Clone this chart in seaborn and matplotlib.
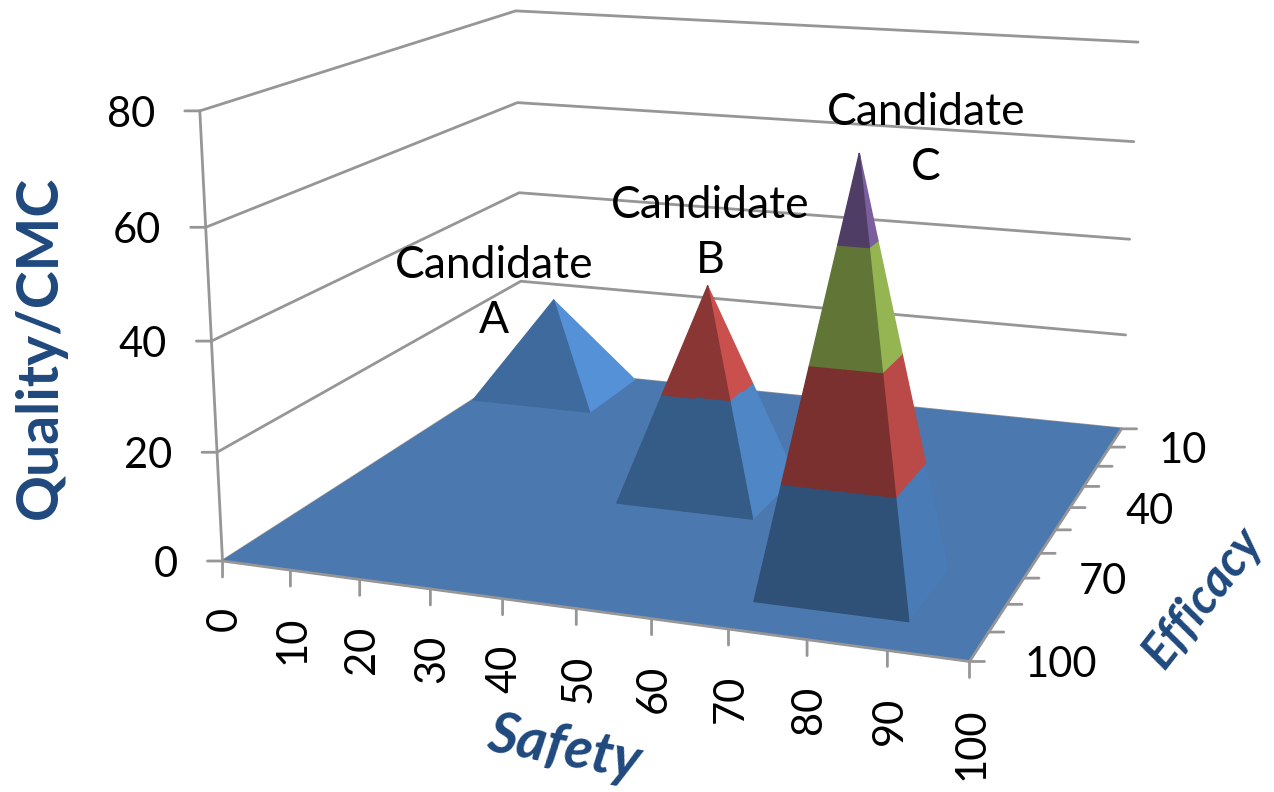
import numpy as np
import matplotlib
matplotlib.use("Agg")
import matplotlib.pyplot as plt
import matplotlib.colors as mcolors
import seaborn as sns
from mpl_toolkits.mplot3d import proj3d
from mpl_toolkits.mplot3d.art3d import Poly3DCollection

safety = [0, 10, 20, 30, 40, 50, 60, 70, 80, 90, 100]
efficacy = [0, 10, 20, 30, 40, 50, 60, 70, 80, 90, 100]
efficacy_labels = ["", "10", "", "", "40", "", "", "70", "", "", "100"]
quality_ticks = [0, 20, 40, 60, 80]
peak_safety = [10, 50, 80]
peak_efficacy = [10, 50, 80]
peak_quality = [20, 40, 75]
names = ["Candidate\nA", "Candidate\nB", "Candidate\nC"]

band_colors = ["#4A7EBB", "#BE4B48", "#98B954", "#7D60A0"]
front_shade = [0.84, 0.72, 0.64]
right_shade = [1.15, 1.06, 0.98]
floor_color = "#4A78AF"
grey = "#969696"
title_blue = "#1F497D"

sns.set_style("white")
plt.rcParams["font.family"] = ["Lato", "DejaVu Sans"]
plt.rcParams["text.color"] = "black"

fig = plt.figure(figsize=(12.74, 7.92), dpi=100)
# camera found by fitting to the corners of the floor and walls
ax = fig.add_axes([0.36990, 0.34038, 0.36132, 0.58121], projection="3d")
ax.set_xlim(0, 100, view_margin=0)
ax.set_ylim(100, 0, view_margin=0)
ax.set_zlim(0, 80, view_margin=0)
ax.view_init(elev=14.1225, azim=-70.3428)
ax.set_box_aspect((1.6781, 1.6265, 1), zoom=np.exp(0.8323))
ax.set_axis_off()
ax.computed_zorder = False

Z = np.zeros((len(efficacy), len(safety)))
for s, e, q in zip(peak_safety, peak_efficacy, peak_quality):
    Z[efficacy.index(e), safety.index(s)] = q


def clip(poly, level, keep_above):
    out = []
    for k in range(len(poly)):
        a, b = poly[k], poly[(k + 1) % len(poly)]
        ina = a[2] >= level if keep_above else a[2] <= level
        inb = b[2] >= level if keep_above else b[2] <= level
        if ina:
            out.append(a)
        if ina != inb:
            t = (level - a[2]) / (b[2] - a[2])
            out.append(a + t * (b - a))
    return out


def shaded(col, f):
    return tuple(np.clip(np.array(mcolors.to_rgb(col)) * f, 0, 1))


# split every grid cell along the diagonal through its highest corner
floor, groups = [], {q: [] for q in peak_quality}
for i in range(len(efficacy) - 1):
    for j in range(len(safety) - 1):
        c = [np.array([safety[j + dj], efficacy[i + di], Z[i + di, j + dj]], float)
             for di, dj in [(0, 0), (0, 1), (1, 1), (1, 0)]]
        top = int(np.argmax([p[2] for p in c]))
        if top % 2 == 0:
            tris = [[c[0], c[1], c[2]], [c[0], c[2], c[3]]]
        else:
            tris = [[c[1], c[2], c[3]], [c[1], c[3], c[0]]]
        for tri in tris:
            h = max(p[2] for p in tri)
            if h == 0:
                floor.append(tri)
                continue
            n = np.cross(tri[1] - tri[0], tri[2] - tri[0])
            if n[2] < 0:
                n = -n
            if abs(n[1]) > abs(n[0]):
                if n[1] < 0:
                    continue
                f = front_shade[peak_quality.index(h)]
            else:
                if n[0] < 0:
                    continue
                f = right_shade[peak_quality.index(h)]
            for b in range(len(band_colors)):
                part = clip(clip(tri, quality_ticks[b], True), quality_ticks[b + 1], False)
                if len(part) >= 3:
                    groups[h].append((part, shaded(band_colors[b], f)))

for z in quality_ticks:
    ax.plot([0, 0, 100], [100, 0, 0], [z, z, z], color=grey, lw=2, zorder=0, clip_on=False)
ax.plot([0, 0], [100, 100], [0, 80], color=grey, lw=2, zorder=0, clip_on=False)

fl = Poly3DCollection(floor, facecolors=floor_color, edgecolors=floor_color, linewidths=1, zorder=1)
fl.set_clip_on(False)
ax.add_collection3d(fl)
ax.plot([0, 100, 100], [100, 100, 0], [0, 0, 0], color=grey, lw=2, zorder=1.5, clip_on=False)
for k, q in enumerate(peak_quality):
    cols = [g[1] for g in groups[q]]
    pc = Poly3DCollection([g[0] for g in groups[q]], facecolors=cols, edgecolors=cols, linewidths=1, zorder=2 + k)
    pc.set_clip_on(False)
    ax.add_collection3d(pc)

M = ax.get_proj()


def mark(s, e, z, dx, dy, label, **kw):
    X, Y, _ = proj3d.proj_transform(s, e, z, M)
    ax.annotate(label, xy=(X, Y), xytext=(dx, dy), textcoords="offset pixels",
                annotation_clip=False, fontsize=30, **kw)


def tick(s, e, z, dx, dy):
    X, Y, _ = proj3d.proj_transform(s, e, z, M)
    ax.annotate("", xy=(X, Y), xytext=(dx, dy), textcoords="offset pixels", annotation_clip=False,
                arrowprops=dict(arrowstyle="-", color=grey, lw=2, shrinkA=0, shrinkB=0))


for s in safety:
    tick(s, 100, 0, 0, -16)
    mark(s, 100, 0, 2, -46, str(s), rotation=90, ha="center", va="top")
for e, lab in zip(efficacy, efficacy_labels):
    tick(100, e, 0, 15, 0)
    mark(100, e, 0, 49 if lab == "10" else 55, -4, lab, ha="left", va="center")
for z in quality_ticks:
    tick(0, 100, z, -15, 0)
    mark(0, 100, z, -45, -4, str(z), ha="right", va="center")

for name, x, y in zip(names, [494, 710, 926], [293, 233, 140]):
    fig.text(x / 1274, 1 - y / 792, name, fontsize=32, ha="center", va="center", linespacing=1.45)

fig.text(40 / 1274, 1 - 347 / 792, "Quality/CMC", rotation=90, fontsize=41, fontweight="bold",
         color=title_blue, ha="center", va="center")
fig.text(564 / 1274, 1 - 749 / 792, "Safety", rotation=-11, fontsize=41, fontweight="bold",
         style="italic", color=title_blue, ha="center", va="center")
fig.text(1203 / 1274, 1 - 598 / 792, "Efficacy", rotation=52, fontsize=35, fontweight="bold",
         style="italic", color=title_blue, ha="center", va="center")
fig.savefig("out.png", dpi=100)
